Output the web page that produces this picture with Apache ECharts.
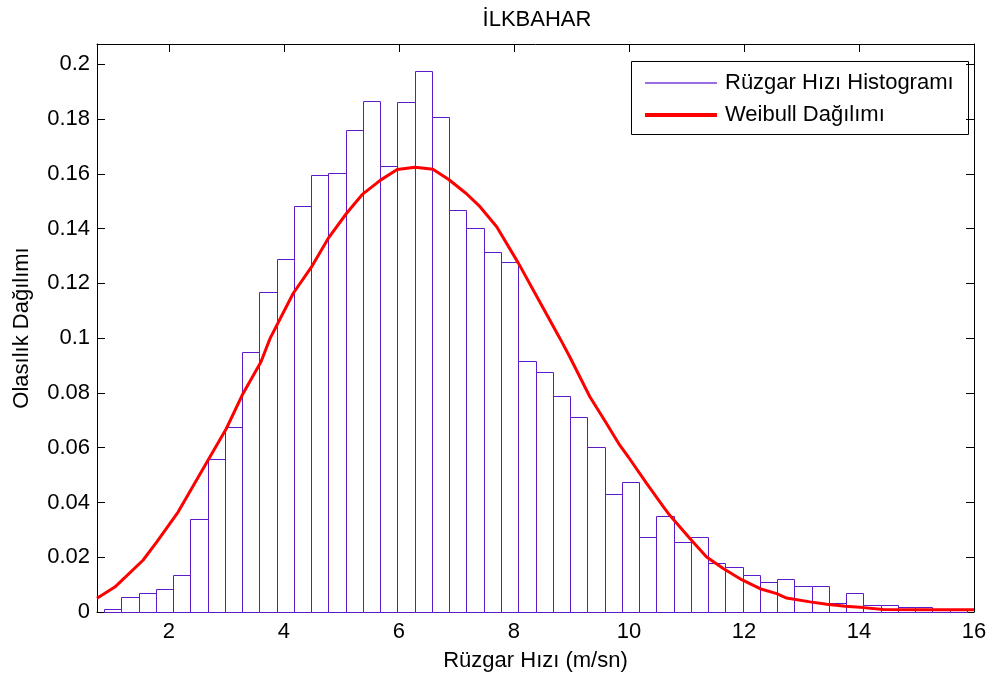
<!DOCTYPE html>
<html>
<head>
<meta charset="utf-8">
<script src="https://cdn.jsdelivr.net/npm/echarts@6/dist/echarts.min.js"></script>
<style>html,body{margin:0;padding:0;background:#fff}#c{width:990px;height:679px}</style>
</head>
<body>
<div id="c"></div>
<script>
// Histogram bin centres (m/s) and relative frequencies
const binCenters = [1.025, 1.325, 1.625, 1.925, 2.225, 2.525, 2.825, 3.125, 3.425, 3.725,
  4.025, 4.325, 4.625, 4.925, 5.225, 5.525, 5.825, 6.125, 6.425, 6.725,
  7.025, 7.325, 7.625, 7.925, 8.225, 8.525, 8.825, 9.125, 9.425, 9.725,
  10.025, 10.325, 10.625, 10.925, 11.225, 11.525, 11.825, 12.125, 12.425, 12.725,
  13.025, 13.325, 13.625, 13.925, 14.225, 14.525, 14.825, 15.125, 15.425, 15.725];
const histValues = [0.0012, 0.0053, 0.0071, 0.0085, 0.0135, 0.034, 0.0559, 0.0674, 0.0949, 0.1167,
  0.129, 0.1482, 0.1597, 0.1604, 0.1759, 0.1866, 0.163, 0.1861, 0.1975, 0.1809,
  0.1469, 0.1403, 0.1315, 0.1277, 0.0917, 0.0877, 0.0788, 0.0711, 0.0603, 0.043,
  0.0474, 0.0275, 0.0352, 0.0257, 0.0274, 0.018, 0.0166, 0.0135, 0.011, 0.0122,
  0.0096, 0.0096, 0.0033, 0.0071, 0.0026, 0.0026, 0.002, 0.002, 0.0012, 0.0012];

// Weibull curve points
const weibullX = [0.75, 1.06, 1.55, 1.79, 2.16, 2.68, 3.0, 3.29, 3.6, 3.76, 4.16, 4.48, 4.77, 5.09, 5.37,
  5.68, 5.97, 6.28, 6.59, 6.86, 7.17, 7.41, 7.7, 8.08, 8.4, 8.8, 8.97, 9.32, 9.61, 9.84, 9.99,
  10.31, 10.6, 10.71, 11.06, 11.35, 11.64, 11.96, 12.28, 12.57, 12.74, 13.15, 13.44, 13.76,
  14.08, 14.42, 15.35, 16.0];
const weibullY = [0.005, 0.0091, 0.0189, 0.0256, 0.0365, 0.0554, 0.067, 0.0798, 0.0913, 0.0999, 0.1163, 0.126, 0.1364, 0.1456, 0.1526,
  0.1577, 0.1616, 0.1624, 0.1617, 0.158, 0.1528, 0.148, 0.1407, 0.1273, 0.1151, 0.0999, 0.0932, 0.0786, 0.0688, 0.0609, 0.0566,
  0.0469, 0.0384, 0.0353, 0.0268, 0.0201, 0.0159, 0.0118, 0.0085, 0.0067, 0.0051, 0.0037, 0.0028, 0.0021,
  0.0016, 0.0009, 0.0008, 0.0008];

const xTicks = [2, 4, 6, 8, 10, 12, 14, 16];
const yTicks = [0, 0.02, 0.04, 0.06, 0.08, 0.1, 0.12, 0.14, 0.16, 0.18, 0.2];

const titleText = 'İLKBAHAR';
const xName = 'Rüzgar Hızı (m/sn)';
const yName = 'Olasılık Dağılımı';
const histName = 'Rüzgar Hızı Histogramı';
const weibullName = 'Weibull Dağılımı';

const FONT = 'Liberation Sans, Arial, sans-serif';
const binWidth = binCenters[1] - binCenters[0];
const barColor = '#5c1ac8';

const chart = echarts.init(document.getElementById('c'), null, {renderer: 'canvas'});

const axisLine = {show: true, onZero: false, lineStyle: {color: '#000', width: 1}};
const tickStyle = {lineStyle: {color: '#000', width: 1}};

chart.setOption({
  animation: false,
  backgroundColor: '#fff',
  title: {
    text: titleText, left: 537, textAlign: 'center', top: 9, padding: 0,
    textStyle: {fontFamily: FONT, fontSize: 22, fontWeight: 'normal', color: '#000'}
  },
  grid: {left: 97, right: 16, top: 44, bottom: 67, containLabel: false},
  legend: [
    {
      data: [{name: histName, icon: 'rect', itemStyle: {color: '#9a6ee0'}}],
      left: 645, top: 72, padding: 0, itemWidth: 72, itemHeight: 2, itemGap: 0,
      textStyle: {fontFamily: FONT, fontSize: 22, color: '#000', padding: [0, 0, 0, 3]},
      selectedMode: false
    },
    {
      data: [{name: weibullName, icon: 'rect', itemStyle: {color: '#ff0000'}}],
      left: 645, top: 104, padding: 0, itemWidth: 72, itemHeight: 4, itemGap: 0,
      textStyle: {fontFamily: FONT, fontSize: 22, color: '#000', padding: [0, 0, 0, 3]},
      selectedMode: false
    }
  ],
  graphic: [{
    type: 'rect', shape: {x: 631.5, y: 61.5, width: 337, height: 73},
    style: {fill: 'rgba(0,0,0,0)', stroke: '#000', lineWidth: 1}, z: 100
  }],
  xAxis: [
    {
      type: 'value', min: 0.75, max: 16, position: 'bottom',
      name: xName, nameLocation: 'middle', nameGap: 38,
      nameTextStyle: {fontFamily: FONT, fontSize: 22, color: '#000'},
      axisLine: axisLine,
      axisTick: Object.assign({show: true, inside: true, length: 8, customValues: xTicks}, tickStyle),
      axisLabel: {show: true, customValues: xTicks, margin: 9, fontFamily: FONT, fontSize: 22, color: '#000'},
      splitLine: {show: false}
    },
    {
      type: 'value', min: 0.75, max: 16, position: 'top',
      axisLine: axisLine,
      axisTick: Object.assign({show: true, inside: true, length: 8, customValues: xTicks}, tickStyle),
      axisLabel: {show: false},
      splitLine: {show: false}
    }
  ],
  yAxis: [
    {
      type: 'value', min: 0, max: 0.2074, position: 'left',
      name: yName, nameLocation: 'middle', nameGap: 64, nameRotate: 90,
      nameTextStyle: {fontFamily: FONT, fontSize: 22, color: '#000'},
      axisLine: axisLine,
      axisTick: Object.assign({show: true, inside: true, length: 8, customValues: yTicks}, tickStyle),
      axisLabel: {
        show: true, customValues: yTicks, margin: 7, fontFamily: FONT, fontSize: 22, color: '#000',
        formatter: v => (v === 0 ? '0' : String(Number(v.toFixed(3))))
      },
      splitLine: {show: false}
    },
    {
      type: 'value', min: 0, max: 0.2074, position: 'right',
      axisLine: axisLine,
      axisTick: Object.assign({show: true, inside: true, length: 8, customValues: yTicks}, tickStyle),
      axisLabel: {show: false},
      splitLine: {show: false}
    }
  ],
  series: [
    {
      name: histName, type: 'custom', xAxisIndex: 0, yAxisIndex: 0,
      itemStyle: {color: '#9a6ee0'},
      data: binCenters.map((c, i) => [c, histValues[i]]),
      renderItem: function (params, api) {
        const c = api.value(0), h = api.value(1);
        const p0 = api.coord([c - binWidth / 2, h]);
        const p1 = api.coord([c + binWidth / 2, 0]);
        return {
          type: 'rect',
          shape: {x: Math.round(p0[0]) + 0.5, y: Math.round(p0[1]) + 0.5,
                  width: Math.round(p1[0]) - Math.round(p0[0]), height: Math.round(p1[1]) - Math.round(p0[1])},
          style: {fill: '#fff', stroke: barColor, lineWidth: 1}
        };
      },
      z: 2
    },
    {
      name: weibullName, type: 'line', xAxisIndex: 0, yAxisIndex: 0,
      data: weibullX.map((x, i) => [x, weibullY[i]]),
      showSymbol: false, symbol: 'none', smooth: false,
      lineStyle: {color: '#ff0000', width: 3},
      itemStyle: {color: '#ff0000'},
      z: 5
    }
  ]
});
</script>
</body>
</html>
